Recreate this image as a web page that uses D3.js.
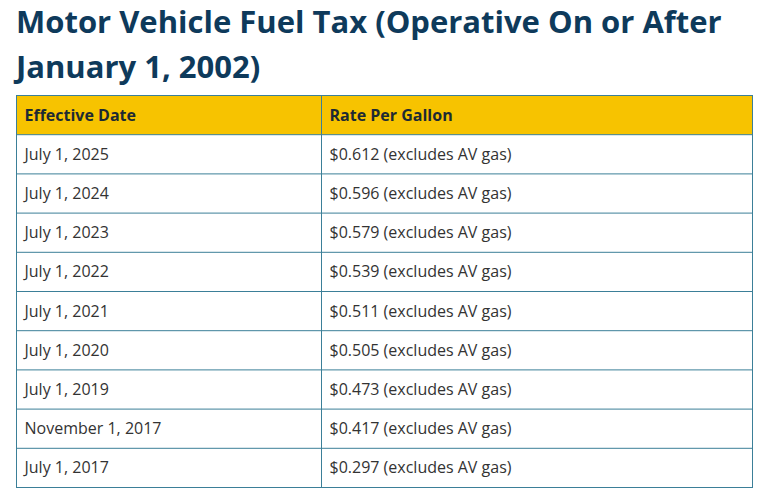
<!DOCTYPE html>
<html><head><meta charset="utf-8">
<script src="https://cdn.jsdelivr.net/npm/d3@7"></script>
<style>body{margin:0;background:#fff;}</style>
</head><body><div id="chart"></div>
<script>
const title = ['Motor Vehicle Fuel Tax (Operative On or After', 'January 1, 2002)'];
const columns = ['Effective Date', 'Rate Per Gallon'];
const dates = ['July 1, 2025','July 1, 2024','July 1, 2023','July 1, 2022','July 1, 2021','July 1, 2020','July 1, 2019','November 1, 2017','July 1, 2017'];
const rates = [0.612,0.596,0.579,0.539,0.511,0.505,0.473,0.417,0.297];

const width = 763, height = 494;
const tLeft = 16.5, tRight = 752.5, tTop = 95.5, tBottom = 487.5, colSplit = 321.5;
const svg = d3.select('#chart').append('svg').attr('width', width).attr('height', height);
const font = '"Source Sans Pro","Open Sans","Noto Sans",sans-serif';

svg.selectAll('text.title').data(title).join('text')
  .attr('x', 16).attr('y', (d, i) => 33 + i * 45)
  .attr('font-family', font).attr('font-size', 31).attr('font-weight', 700)
  .attr('fill', '#0e3a5b').text(d => d);

const rowKeys = ['header', ...dates.map((d, i) => i)];
const y = d3.scaleBand().domain(rowKeys).range([tTop, tBottom]);
const x = d3.scaleOrdinal().domain([0, 1]).range([tLeft, colSplit]);

svg.append('rect').attr('x', tLeft).attr('y', y('header')).attr('width', tRight - tLeft)
  .attr('height', y.bandwidth()).attr('fill', '#f7c300');

const fmt = d3.format('.3f');
const cells = [];
columns.forEach((c, j) => cells.push({row: 'header', col: j, text: c, bold: true}));
dates.forEach((d, i) => {
  cells.push({row: i, col: 0, text: d});
  cells.push({row: i, col: 1, text: '$' + fmt(rates[i]) + ' (excludes AV gas)'});
});

svg.selectAll('text.cell').data(cells).join('text')
  .attr('x', d => x(d.col) + 8).attr('y', d => y(d.row) + y.bandwidth() / 2 + 5.5)
  .attr('font-family', font).attr('font-size', 16)
  .attr('font-weight', d => d.bold ? 700 : 400)
  .attr('fill', d => d.bold ? '#1d2a33' : '#333').text(d => d.text);

const stroke = '#3b7f98';
svg.selectAll('line.h').data(rowKeys.slice(1)).join('line')
  .attr('x1', tLeft).attr('x2', tRight).attr('y1', d => y(d)).attr('y2', d => y(d))
  .attr('stroke', stroke);
svg.append('line').attr('x1', colSplit).attr('x2', colSplit).attr('y1', tTop).attr('y2', tBottom).attr('stroke', stroke);
svg.append('rect').attr('x', tLeft).attr('y', tTop).attr('width', tRight - tLeft).attr('height', tBottom - tTop)
  .attr('fill', 'none').attr('stroke', stroke);
</script></body></html>
